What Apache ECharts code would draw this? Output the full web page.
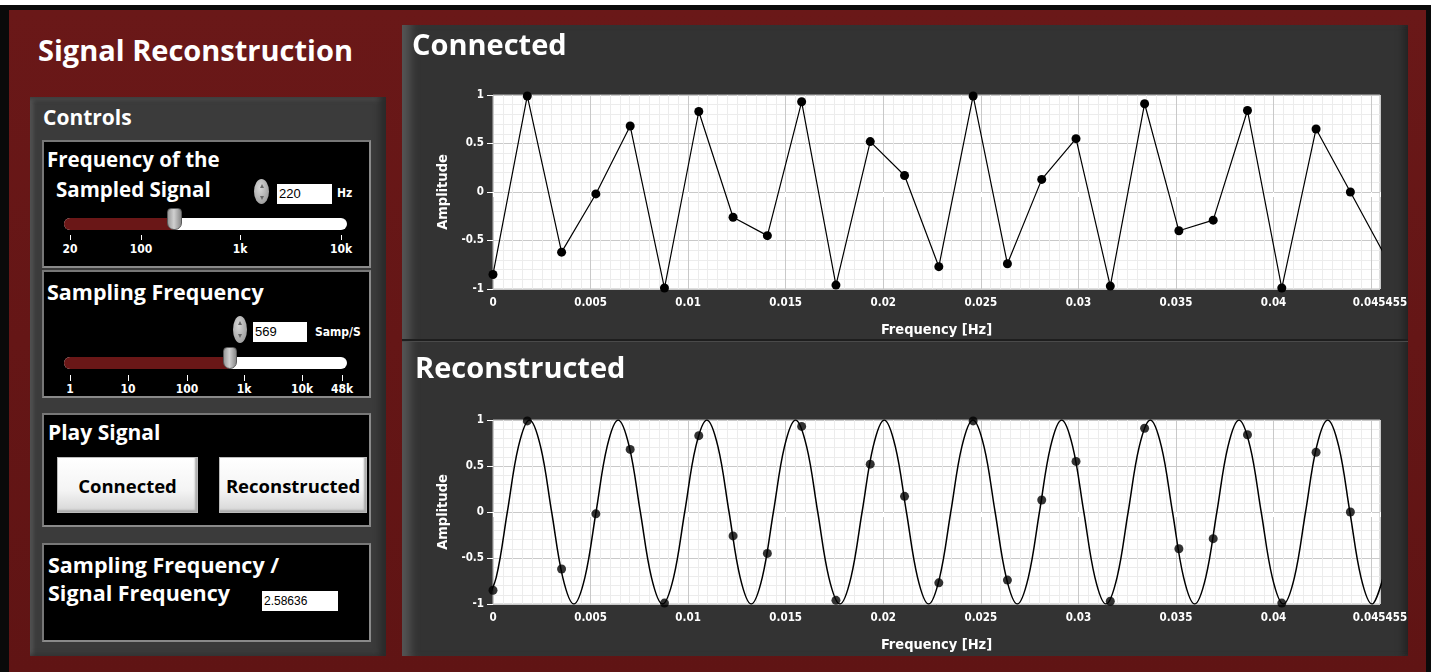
<!DOCTYPE html>
<html>
<head>
<meta charset="utf-8">
<script src="https://cdn.jsdelivr.net/npm/echarts@6/dist/echarts.min.js"></script>
<style>
  html, body { margin: 0; padding: 0; background: #ffffff; width: 1431px; height: 672px; overflow: hidden; }
  .abs { position: absolute; }
  .t { position: absolute; color: #fff; font-family: "Open Sans", "Noto Sans", sans-serif; font-weight: 700; white-space: nowrap; }
  .small { position: absolute; color: #fff; font-family: "DejaVu Sans Condensed", "DejaVu Sans", sans-serif; font-weight: 700; font-size: 12px; white-space: nowrap; transform: translateX(-50%); }
  .sub { position: absolute; background: #000; box-sizing: border-box; border: 2px solid #777; border-right-color: #8a8a8a; border-bottom-color: #8a8a8a; }
  .numbox { position: absolute; background: #fff; color: #000; font-family: "Liberation Sans", "DejaVu Sans", sans-serif; font-size: 13px; line-height: 20px; padding-left: 2px; box-sizing: border-box; }
  .spin { position: absolute; border-radius: 50%; background: radial-gradient(ellipse at 40% 35%, #d8d8d8, #8d8d8d); }
  .spin:before { content: ""; position: absolute; left: 50%; top: 18%; margin-left: -2px; border-left: 2px solid transparent; border-right: 2px solid transparent; border-bottom: 4px solid #666; }
  .spin:after { content: ""; position: absolute; left: 50%; bottom: 18%; margin-left: -2px; border-left: 2px solid transparent; border-right: 2px solid transparent; border-top: 4px solid #666; }
  .track { position: absolute; background: #fff; border-radius: 6px; height: 12px; }
  .fill { position: absolute; background: #6a1717; border-radius: 6px 0 0 6px; height: 12px; }
  .thumb { position: absolute; border-radius: 4px 4px 7px 7px; background: linear-gradient(90deg, #9a9a9a, #d0d0d0 45%, #8a8a8a); border: 1px solid #5a5a5a; box-sizing: border-box; }
  .tick { position: absolute; width: 1px; background: #fff; }
  .btn { position: absolute; box-sizing: border-box; background: linear-gradient(180deg, #ffffff 0%, #f4f4f4 60%, #d6d6d6 100%); border: 1px solid #bbb; box-shadow: inset -2px -2px 2px #aaa; color: #000; font-family: "Open Sans", "Noto Sans", sans-serif; font-weight: 700; font-size: 18.5px; text-align: center; }
  #chart { position: absolute; left: 0; top: 0; width: 1431px; height: 672px; }
</style>
</head>
<body>
<!-- outer frame -->
<div class="abs" style="left:0;top:5px;width:1431px;height:667px;background:#0a0a0a;"></div>
<div class="abs" style="left:9px;top:10px;width:1417px;height:662px;background:linear-gradient(180deg,#6a1818,#601414);"></div>

<div class="t" style="left:38px;top:31px;font-size:29px;line-height:38px;">Signal Reconstruction</div>

<!-- controls panel -->
<div class="abs" style="left:30px;top:97px;width:356px;height:559px;background:#3b3b3b;box-shadow: inset -6px 0 6px #2a2a2a, inset 3px 3px 4px #555;"></div>
<div class="t" style="left:43px;top:103px;font-size:21px;line-height:28px;">Controls</div>

<div class="sub" style="left:42px;top:140px;width:329px;height:128px;"></div>
<div class="t" style="left:47px;top:145px;font-size:20.5px;line-height:28px;">Frequency of the</div>
<div class="t" style="left:56px;top:175px;font-size:20.5px;line-height:28px;">Sampled Signal</div>
<div class="spin" style="left:254px;top:179px;width:15px;height:25px;"></div>
<div class="numbox" style="left:277px;top:184px;width:55px;height:20px;">220</div>
<div class="t" style="left:337px;top:185px;font-size:12px;line-height:16px;font-family:'DejaVu Sans Condensed','DejaVu Sans',sans-serif;">Hz</div>
<div class="track" style="left:64px;top:218px;width:283px;"></div>
<div class="fill" style="left:64px;top:218px;width:110px;"></div>
<div class="thumb" style="left:167px;top:208px;width:15px;height:22px;"></div>
<div class="tick" style="left:70px;top:235px;height:5px;"></div>
<div class="tick" style="left:141px;top:235px;height:5px;"></div>
<div class="tick" style="left:240px;top:235px;height:5px;"></div>
<div class="tick" style="left:341px;top:235px;height:5px;"></div>
<div class="small" style="left:70px;top:242px;">20</div>
<div class="small" style="left:141px;top:242px;">100</div>
<div class="small" style="left:240px;top:242px;">1k</div>
<div class="small" style="left:341px;top:242px;">10k</div>

<div class="sub" style="left:42px;top:270px;width:329px;height:128px;"></div>
<div class="t" style="left:47px;top:278px;font-size:21.5px;line-height:28px;">Sampling Frequency</div>
<div class="spin" style="left:233px;top:316px;width:14px;height:27px;"></div>
<div class="numbox" style="left:253px;top:322px;width:54px;height:20px;">569</div>
<div class="t" style="left:315px;top:324px;font-size:12px;line-height:16px;font-family:'DejaVu Sans Condensed','DejaVu Sans',sans-serif;">Samp/S</div>
<div class="track" style="left:64px;top:357px;width:283px;"></div>
<div class="fill" style="left:64px;top:357px;width:165px;"></div>
<div class="thumb" style="left:223px;top:347px;width:14px;height:22px;"></div>
<div class="tick" style="left:70px;top:375px;height:6px;"></div>
<div class="tick" style="left:128px;top:375px;height:6px;"></div>
<div class="tick" style="left:187px;top:375px;height:6px;"></div>
<div class="tick" style="left:244px;top:375px;height:6px;"></div>
<div class="tick" style="left:302px;top:375px;height:6px;"></div>
<div class="tick" style="left:342px;top:375px;height:6px;"></div>
<div class="small" style="left:70px;top:382px;">1</div>
<div class="small" style="left:128px;top:382px;">10</div>
<div class="small" style="left:187px;top:382px;">100</div>
<div class="small" style="left:244px;top:382px;">1k</div>
<div class="small" style="left:302px;top:382px;">10k</div>
<div class="small" style="left:342px;top:382px;">48k</div>

<div class="sub" style="left:42px;top:413px;width:329px;height:114px;"></div>
<div class="t" style="left:48px;top:418px;font-size:21px;line-height:28px;">Play Signal</div>
<div class="btn" style="left:57px;top:457px;width:141px;height:56px;line-height:56px;">Connected</div>
<div class="btn" style="left:219px;top:457px;width:148px;height:56px;line-height:56px;">Reconstructed</div>

<div class="sub" style="left:42px;top:543px;width:329px;height:99px;"></div>
<div class="t" style="left:48px;top:551px;font-size:21.5px;line-height:28px;">Sampling Frequency /</div>
<div class="t" style="left:48px;top:579px;font-size:21.5px;line-height:28px;">Signal Frequency</div>
<div class="numbox" style="left:262px;top:591px;width:76px;height:20px;font-size:12px;">2.58636</div>

<!-- graph panel -->
<div class="abs" style="left:402px;top:25px;width:1006px;height:631px;background:#333333;box-shadow: inset 14px 0 10px -6px #555, inset -8px 0 8px -4px #222;"></div>
<div class="abs" style="left:402px;top:339px;width:1006px;height:2px;background:#1e1e1e;"></div>
<div class="abs" style="left:402px;top:341px;width:1006px;height:1px;background:#4a4a4a;"></div>

<div id="chart"></div>

<script>
// ---- data ----
const xAxisMax = 0.045455;
const yTicks = [-1, -0.5, 0, 0.5, 1];

// sampled points (time in s, amplitude)
const sampleTimes = [0, 0.001757, 0.003515, 0.005272, 0.00703, 0.008787, 0.010545, 0.012302, 0.01406,
  0.015817, 0.017575, 0.019332, 0.02109, 0.022847, 0.024605, 0.026362, 0.02812, 0.029877, 0.031634,
  0.033392, 0.035149, 0.036907, 0.038664, 0.040422, 0.042179, 0.043937, 0.045694];
const sampleValues = [-0.85, 0.99, -0.62, -0.02, 0.68, -0.99, 0.83, -0.26, -0.45, 0.93, -0.96, 0.52, 0.17,
  -0.77, 0.99, -0.74, 0.13, 0.55, -0.97, 0.91, -0.40, -0.29, 0.84, -0.99, 0.65, 0.0, -0.65];

// reconstructed continuous signal: peaks, troughs, zero crossings and mid points
const curveTimes = [-0.000403, 0.000166, 0.000734, 0.001302, 0.00187, 0.002438, 0.003006, 0.003574,
  0.004143, 0.004711, 0.005279, 0.005847, 0.006415, 0.006983, 0.007551, 0.008119,
  0.008688, 0.009256, 0.009824, 0.010392, 0.01096, 0.011528, 0.012096, 0.012664,
  0.013233, 0.013801, 0.014369, 0.014937, 0.015505, 0.016073, 0.016641, 0.017209,
  0.017778, 0.018346, 0.018914, 0.019482, 0.02005, 0.020618, 0.021186, 0.021755,
  0.022323, 0.022891, 0.023459, 0.024027, 0.024595, 0.025163, 0.025731, 0.0263,
  0.026868, 0.027436, 0.028004, 0.028572, 0.02914, 0.029708, 0.030277, 0.030845,
  0.031413, 0.031981, 0.032549, 0.033117, 0.033685, 0.034253, 0.034822, 0.03539,
  0.035958, 0.036526, 0.037094, 0.037662, 0.03823, 0.038798, 0.039367, 0.039935,
  0.040503, 0.041071, 0.041639, 0.042207, 0.042775, 0.043344, 0.043912, 0.04448,
  0.045048, 0.045616];
const curveValues = [-1, -0.71, 0, 0.71, 1, 0.71, 0, -0.71,
  -1, -0.71, 0, 0.71, 1, 0.71, 0, -0.71,
  -1, -0.71, 0, 0.71, 1, 0.71, 0, -0.71,
  -1, -0.71, 0, 0.71, 1, 0.71, 0, -0.71,
  -1, -0.71, 0, 0.71, 1, 0.71, 0, -0.71,
  -1, -0.71, 0, 0.71, 1, 0.71, 0, -0.71,
  -1, -0.71, 0, 0.71, 1, 0.71, 0, -0.71,
  -1, -0.71, 0, 0.71, 1, 0.71, 0, -0.71,
  -1, -0.71, 0, 0.71, 1, 0.71, 0, -0.71,
  -1, -0.71, 0, 0.71, 1, 0.71, 0, -0.71,
  -1, -0.71];

const titles = ['Connected', 'Reconstructed'];
const xName = 'Frequency [Hz]';
const yName = 'Amplitude';

// ---- chart ----
const samplePairs = sampleTimes.map((t, i) => [t, sampleValues[i]]);
const curvePairs = curveTimes.map((t, i) => [t, curveValues[i]]);

const labelFont = "'DejaVu Sans Condensed', 'DejaVu Sans', sans-serif";
function xAxisCfg(idx) {
  return {
    gridIndex: idx, type: 'value', min: 0, max: xAxisMax, interval: 0.005,
    name: xName, nameLocation: 'middle', nameGap: 34,
    nameTextStyle: { color: '#fff', fontWeight: 'bold', fontSize: 14.5, fontFamily: labelFont },
    axisLine: { show: false },
    axisTick: { show: true, length: 5, lineStyle: { color: '#fff' } },
    axisLabel: {
      color: '#fff', fontWeight: 'bold', fontSize: 11.5, fontFamily: labelFont, margin: 8,
      showMinLabel: true, showMaxLabel: true,
      formatter: v => (Math.abs(v - 0.045) < 1e-9 ? '' : String(parseFloat(v.toFixed(6))))
    },
    splitLine: { show: true, lineStyle: { color: '#c9c9c9', width: 1 } },
    minorTick: { show: false, splitNumber: 10 },
    minorSplitLine: { show: true, lineStyle: { color: '#ececec', width: 1 } }
  };
}
function yAxisCfg(idx) {
  return {
    gridIndex: idx, type: 'value', min: -1, max: 1, interval: 0.5,
    name: yName, nameLocation: 'middle', nameGap: 40, nameRotate: 90,
    nameTextStyle: { color: '#fff', fontWeight: 'bold', fontSize: 14.5, fontFamily: labelFont },
    axisLine: { show: false },
    axisTick: { show: true, length: 6, lineStyle: { color: '#fff' } },
    axisLabel: { color: '#fff', fontWeight: 'bold', fontSize: 11.5, fontFamily: labelFont, margin: 9,
      showMinLabel: true, showMaxLabel: true },
    splitLine: { show: true, lineStyle: { color: '#c9c9c9', width: 1 } },
    minorTick: { show: false, splitNumber: 5 },
    minorSplitLine: { show: true, lineStyle: { color: '#ececec', width: 1 } }
  };
}

const chart = echarts.init(document.getElementById('chart'), null, { renderer: 'canvas' });
chart.setOption({
  backgroundColor: 'transparent',
  animation: false,
  title: [
    { text: titles[0], left: 412, top: 32, padding: 0,
      textStyle: { color: '#fff', fontSize: 29, fontWeight: 'bold', fontFamily: "'Open Sans', 'Noto Sans', sans-serif" } },
    { text: titles[1], left: 415, top: 355, padding: 0,
      textStyle: { color: '#fff', fontSize: 29, fontWeight: 'bold', fontFamily: "'Open Sans', 'Noto Sans', sans-serif" } }
  ],
  grid: [
    { left: 493, top: 95, width: 887, height: 194, show: true, backgroundColor: '#ffffff', borderColor: '#bdbdbd', borderWidth: 1, containLabel: false },
    { left: 493, top: 420, width: 887, height: 184, show: true, backgroundColor: '#ffffff', borderColor: '#bdbdbd', borderWidth: 1, containLabel: false }
  ],
  xAxis: [xAxisCfg(0), xAxisCfg(1)],
  yAxis: [yAxisCfg(0), yAxisCfg(1)],
  series: [
    { type: 'line', xAxisIndex: 0, yAxisIndex: 0, data: samplePairs, clip: true,
      symbol: 'circle', symbolSize: 9, showAllSymbol: true,
      itemStyle: { color: '#000' }, lineStyle: { color: '#000', width: 1.2 } },
    { type: 'line', xAxisIndex: 1, yAxisIndex: 1, data: curvePairs, clip: true,
      smooth: 0.35, showSymbol: false,
      lineStyle: { color: '#000', width: 1.5 } },
    { type: 'scatter', xAxisIndex: 1, yAxisIndex: 1, data: samplePairs, clip: true,
      symbol: 'circle', symbolSize: 9, itemStyle: { color: '#000' } }
  ]
});
</script>
</body>
</html>
